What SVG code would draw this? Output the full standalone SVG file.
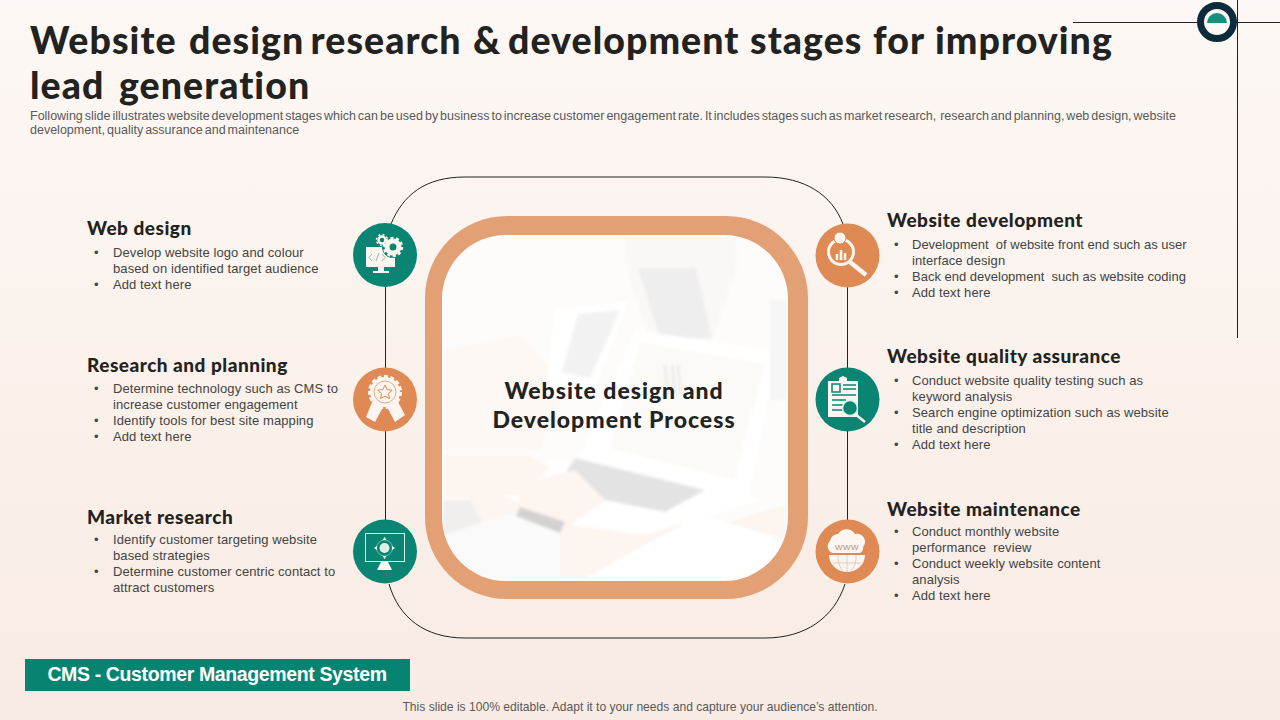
<svg xmlns="http://www.w3.org/2000/svg" width="1280" height="720" viewBox="0 0 1280 720">
<style>
text{white-space:pre}
.h{font-family:"Lato","Liberation Sans",sans-serif;font-weight:900;fill:#222221}
.t{font-family:"Liberation Sans",Arial,sans-serif;font-size:13px;fill:#444444;letter-spacing:.09px}
.s{font-family:"Liberation Sans",Arial,sans-serif;fill:#595959}
.head{font-size:19px;letter-spacing:.5px}
.ln{fill:none;stroke:#222222;stroke-width:1}
.ic{fill:#fdf6f0}
.tl{fill:#0b8573}.or{fill:#df8a54}
</style>
<defs>
<linearGradient id="bg" x1="0" y1="0" x2="0" y2="1"><stop offset="0" stop-color="#fdf8f5"/><stop offset="1" stop-color="#f8ebe3"/></linearGradient>
<filter id="b" x="-10%" y="-10%" width="120%" height="120%"><feGaussianBlur stdDeviation="1.6"/></filter>
<clipPath id="pc"><rect x="443" y="236" width="344" height="344" rx="62"/></clipPath>
</defs>
<rect width="1280" height="720" fill="url(#bg)"/>
<g id="corner">
<line class="ln" x1="1073" y1="22.500" x2="1280" y2="22.500"/>
<line class="ln" x1="1237.500" y1="0" x2="1237.500" y2="338"/>
<circle cx="1217" cy="22" r="16.500" fill="#fdf8f5" stroke="#0c2c3e" stroke-width="7"/>
<path d="M1207 23a10 10 0 0 1 20 0z" fill="#14917e"/>
</g>
<g id="title">
<text class="h" y="54" font-size="37.500" letter-spacing="1.050"><tspan x="30">Website</tspan><tspan x="189">design</tspan><tspan x="310.500">research</tspan><tspan x="473">&amp;</tspan><tspan x="508">development</tspan><tspan x="750">stages</tspan><tspan x="873">for</tspan><tspan x="935">improving</tspan></text>
<text class="h" y="99" font-size="37.500" letter-spacing="1.050"><tspan x="30">lead</tspan><tspan x="119">generation</tspan></text>
<text class="s" x="30" y="120" font-size="12.500" word-spacing="-1.500">Following slide illustrates website development stages which can be used by business to increase customer engagement rate. It includes stages such as market research,  research and planning, web design, website</text>
<text class="s" x="30" y="134" font-size="12.500" word-spacing="-1.500">development, quality assurance and maintenance</text>
</g>
<g id="connectors">
<path class="ln" d="M391 224C403 195 425 177 465 177H765C805 177 832 195 843 224"/>
<path class="ln" d="M389 584C399 618 425 638 465 638H765C805 638 834 618 845 584"/>
<line class="ln" x1="385.500" y1="287" x2="385.500" y2="368"/>
<line class="ln" x1="385.500" y1="431" x2="385.500" y2="520"/>
<line class="ln" x1="847.500" y1="287" x2="847.500" y2="368"/>
<line class="ln" x1="847.500" y1="431" x2="847.500" y2="520"/>
</g>
<g id="center">
<rect x="425" y="216" width="383" height="383" rx="82" fill="#e3a075"/>
<rect x="442" y="235" width="346" height="346" rx="64" fill="#fefdfc"/>
<g clip-path="url(#pc)">
<g filter="url(#b)">
<rect x="443" y="236" width="344" height="344" fill="#fdfcfb"/>
<path d="M624 236H736V270L712 340H650L630 280Z" fill="#faf8f7"/>
<path d="M638 268H696L712 338H660Z" fill="#efeeee"/>
<path d="M443 350L520 335L565 385L540 450L443 450Z" fill="#fdf8f4"/>
<path d="M555 310L628 302L590 400L545 395Z" fill="#ffffff"/>
<path d="M578 314L620 310L590 378L562 372Z" fill="#f3f2f2"/>
<path d="M470 480L600 500L700 530L786 505V578H585L470 570Z" fill="#fcf5f0"/>
<path d="M636 330L778 352L748 500L575 465Z" fill="#ffffff"/>
<path d="M640 342L765 364L735 480L610 448Z" fill="#fbfaf7"/>
<path d="M555 460L745 492L760 500L645 535L570 525L490 490Z" fill="#ffffff"/>
<path d="M575 458L705 490L665 512L555 490Z" fill="#e4e3e3"/>
<path d="M443 455H530L550 468L520 495L443 498Z" fill="#fdf5ef"/>
<path d="M518 485L575 470L605 500L565 530L550 560L520 510Z" fill="#fdf5f0"/>
<path d="M443 500H470L485 528L443 535Z" fill="#f1efee"/>
<path d="M443 535L515 512L560 530V580H443Z" fill="#fafafa"/>
<path d="M520 507L565 522L560 533L516 516Z" fill="#d4d2d1"/>
<path d="M585 578L700 515L787 540V580Z" fill="#ffffff"/>
<path d="M770 300H787V400H770Z" fill="#f7f6f6"/>
<path d="M665 365l3 30M672 365l3 30M678 365l3 30" stroke="#e8e8e8" stroke-width="2.500"/>
</g></g>
<text class="h" x="614" y="399" font-size="23" text-anchor="middle" letter-spacing="1">Website design and</text>
<text class="h" x="614" y="428" font-size="23" text-anchor="middle" letter-spacing="1">Development Process</text>
</g>
<g id="web-design">
<circle class="tl" cx="385" cy="255" r="32"/>
<rect class="ic" x="366" y="247" width="29" height="20"/><path class="ic" d="M378 267h6v4h5v2h-16v-2h5z"/>
<circle cx="393" cy="247" r="11" fill="#0b8573"/>
<circle cx="393" cy="247" r="6" fill="none" stroke="#fdf6f0" stroke-width="5"/>
<circle cx="393" cy="247" r="9" fill="none" stroke="#fdf6f0" stroke-width="2.500" stroke-dasharray="3 2.650"/>
<circle cx="382" cy="240" r="3.500" fill="none" stroke="#fdf6f0" stroke-width="2.500"/>
<circle cx="382" cy="240" r="5.500" fill="none" stroke="#fdf6f0" stroke-width="1.500" stroke-dasharray="2 2.300"/>
<path d="M372 254l-3 3.500 3 3.500M376 261l3-8M382 254l3 3.500-3 3.500" fill="none" stroke="#8fb8ae" stroke-width="1"/>
<text class="h head" x="87" y="235">Web design</text>
<text class="t"><tspan x="94" y="257">•</tspan><tspan x="113" y="257">Develop website logo and colour</tspan><tspan x="113" y="273">based on identified target audience</tspan><tspan x="94" y="289">•</tspan><tspan x="113" y="289">Add text here</tspan></text>
</g>
<g id="research-planning">
<circle class="or" cx="385" cy="399.500" r="32"/>
<path class="ic" d="M373 400L366 417L375 422L383 407ZM387 407L395 422L405 415L397 400Z"/>
<circle class="ic" cx="385" cy="392" r="15"/>
<circle cx="385" cy="392" r="15.500" fill="none" stroke="#fdf6f0" stroke-width="3" stroke-dasharray="4 2.500"/>
<circle cx="385" cy="392" r="11" fill="none" stroke="#df8a54" stroke-width="0.700"/>
<path d="M385 385l2.200 4.600 5 .6-3.700 3.400 1 5-4.500-2.500-4.500 2.500 1-5-3.700-3.400 5-.6z" fill="none" stroke="#df8a54" stroke-width="1"/>
<text class="h head" x="87" y="372">Research and planning</text>
<text class="t"><tspan x="94" y="393">•</tspan><tspan x="113" y="393">Determine technology such as CMS to</tspan><tspan x="113" y="409">increase customer engagement</tspan><tspan x="94" y="425">•</tspan><tspan x="113" y="425">Identify tools for best site mapping</tspan><tspan x="94" y="441">•</tspan><tspan x="113" y="441">Add text here</tspan></text>
</g>
<g id="market-research">
<circle class="tl" cx="385" cy="551.500" r="32"/>
<rect x="365.500" y="533.500" width="39" height="28" fill="none" stroke="#d8f0e8" stroke-width="1"/>
<path class="ic" d="M381 562h7l4 8h-15z"/>
<circle cx="384.500" cy="548" r="5" fill="#d8f0e8"/>
<circle cx="384.500" cy="548" r="8" fill="none" stroke="#a9dccf" stroke-width="0.600"/>
<path class="ic" d="M384.500 537l2 3h-4zM384.500 559l2-3h-4zM374 548l3-2v4zM395 548l-3-2v4z"/>
<text class="h head" x="87" y="524">Market research</text>
<text class="t"><tspan x="94" y="544">•</tspan><tspan x="113" y="544">Identify customer targeting website</tspan><tspan x="113" y="560">based strategies</tspan><tspan x="94" y="576">•</tspan><tspan x="113" y="576">Determine customer centric contact to</tspan><tspan x="113" y="592">attract customers</tspan></text>
</g>
<g id="website-development">
<circle class="or" cx="847.500" cy="255.500" r="32"/>
<circle cx="841" cy="252" r="12.500" fill="none" stroke="#fdf6f0" stroke-width="3"/>
<path d="M837 260v-6M841 260v-10M845 260v-7" stroke="#fdf6f0" stroke-width="2.500"/>
<circle cx="840" cy="238" r="6" fill="#fdf6f0" stroke="#df8a54" stroke-width="1"/>
<path d="M850 262L866 275" stroke="#fdf6f0" stroke-width="4.500"/>
<text class="h head" x="887" y="227">Website development</text>
<text class="t"><tspan x="894" y="249">•</tspan><tspan x="912" y="249" letter-spacing="0">Development  of website front end such as user</tspan><tspan x="912" y="265">interface design</tspan><tspan x="894" y="281">•</tspan><tspan x="912" y="281" letter-spacing="0">Back end development  such as website coding</tspan><tspan x="894" y="297">•</tspan><tspan x="912" y="297">Add text here</tspan></text>
</g>
<g id="website-quality">
<circle class="tl" cx="847.500" cy="399.500" r="32"/>
<path class="ic" d="M828 381h11v-3l4-2 4 2v3h11v36h-30z"/>
<path d="M840 384h-8v8h8zM843 385h13M843 389h13M832 395h24M832 400h14M832 405h12M832 410h12" stroke="#0b8573" stroke-width="1.500" fill="none"/>
<circle cx="850" cy="408" r="7.500" fill="#0b8573" stroke="#d8f0e8" stroke-width="1.500"/>
<path d="M855 414L865 422" stroke="#fdf6f0" stroke-width="2.500"/>
<text class="h head" x="887" y="363">Website quality assurance</text>
<text class="t"><tspan x="894" y="385">•</tspan><tspan x="912" y="385">Conduct website quality testing such as</tspan><tspan x="912" y="401">keyword analysis</tspan><tspan x="894" y="417">•</tspan><tspan x="912" y="417">Search engine optimization such as website</tspan><tspan x="912" y="433">title and description</tspan><tspan x="894" y="449">•</tspan><tspan x="912" y="449">Add text here</tspan></text>
</g>
<g id="website-maintenance">
<circle class="or" cx="847.500" cy="551.500" r="32"/>
<path class="ic" d="M833 553a7 7 0 0 1-3-12 8 8 0 0 1 8-7 10 10 0 0 1 17 0 8 8 0 0 1 8 13 6 6 0 0 1-3 6z"/>
<path class="ic" d="M829 555h36a18 17 0 0 1-36 0z"/>
<path d="M847 555v17M838 555q-1 10 6 17M856 555q1 10-6 17M833 563h28" fill="none" stroke="#dcc4b4" stroke-width="0.800"/>
<text x="847" y="550" text-anchor="middle" font-family="'Liberation Sans',sans-serif" font-size="8" fill="#b98a6d" letter-spacing="0.500">WWW</text>
<text class="h head" x="887" y="516">Website maintenance</text>
<text class="t"><tspan x="894" y="536">•</tspan><tspan x="912" y="536">Conduct monthly website</tspan><tspan x="912" y="552">performance  review</tspan><tspan x="894" y="568">•</tspan><tspan x="912" y="568">Conduct weekly website content</tspan><tspan x="912" y="584">analysis</tspan><tspan x="894" y="600">•</tspan><tspan x="912" y="600">Add text here</tspan></text>
</g>
<g id="cms">
<rect x="25" y="659" width="385" height="32" fill="#068471"/>
<text x="217" y="681" text-anchor="middle" font-family="'Liberation Sans',Arial,sans-serif" font-weight="700" font-size="19.500" fill="#ffffff" letter-spacing="-0.370">CMS - Customer Management System</text>
</g>
<text class="s" x="640" y="711" text-anchor="middle" font-size="12.100">This slide is 100% editable. Adapt it to your needs and capture your audience’s attention.</text>
</svg>
